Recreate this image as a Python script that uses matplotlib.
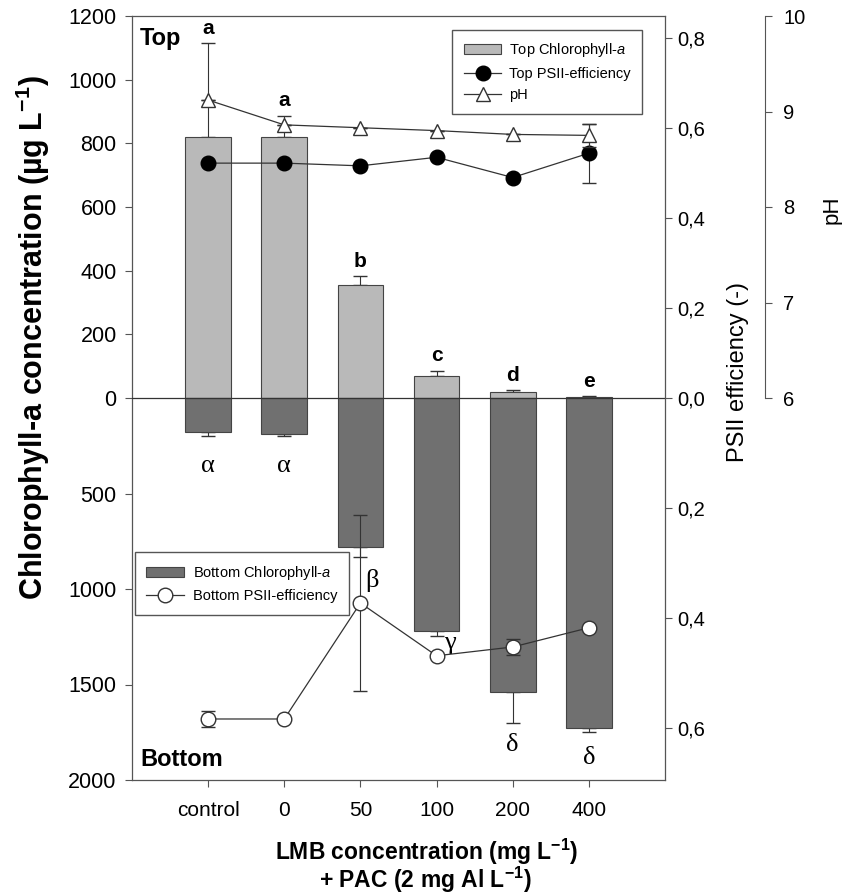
import matplotlib.pyplot as plt
import numpy as np

plt.rcParams['font.family'] = ['Liberation Sans', 'DejaVu Sans']
plt.rcParams['mathtext.fontset'] = 'custom'
plt.rcParams['mathtext.rm'] = 'Liberation Sans'
plt.rcParams['mathtext.it'] = 'Liberation Sans:italic'
plt.rcParams['mathtext.bf'] = 'Liberation Sans:bold'

# data
categories = ['control', '0', '50', '100', '200', '400']
top_chl = [820, 820, 355, 69, 19, 3]
top_chl_err = [295, 66, 28, 16, 5, 2]
bot_chl = [178, 188, 780, 1220, 1540, 1728]
bot_chl_err = [20, 10, 52, 25, 160, 20]
top_psii = [0.522, 0.522, 0.516, 0.535, 0.490, 0.544]
top_psii_err = [0.0, 0.0, 0.0, 0.0, 0.0, 0.066]
bot_psii = [0.584, 0.584, 0.373, 0.469, 0.453, 0.418]
bot_psii_err = [0.015, 0.0, 0.16, 0.0, 0.015, 0.0]
ph = [9.12, 8.86, 8.83, 8.80, 8.76, 8.75]
ph_err = [0.0, 0.0, 0.0, 0.0, 0.0, 0.12]
top_letters = ['a', 'a', 'b', 'c', 'd', 'e']
bot_letters = ['α', 'α', 'β', 'γ', 'δ', 'δ']

# split axis: top 0..1200, bottom 0..2000 drawn downward in the same height
LIM = 1200
s_chl_bot = LIM / 2000
s_psii_top = LIM / 0.849
s_psii_bot = LIM / 0.695

x = np.arange(len(categories))
light = '#b9b9b9'
dark = '#707070'

fig = plt.figure(figsize=(8.42, 8.94), dpi=100)
ax = fig.add_axes([132 / 842, 1 - 780 / 894, 533 / 842, 764 / 894])
ax.set_xlim(-1, 6)
ax.set_ylim(-LIM, LIM)

# bars
tb = ax.bar(x, top_chl, width=0.6, color=light, edgecolor='#444444', linewidth=0.8, zorder=2)
bot_vals = -np.array(bot_chl) * s_chl_bot
bb = ax.bar(x, bot_vals, width=0.6, color=dark, edgecolor='#444444', linewidth=0.8, zorder=2)
ax.errorbar(x, top_chl, yerr=[np.zeros(6), top_chl_err], fmt='none', ecolor='#333333',
            elinewidth=0.8, capsize=5, zorder=1.5)
ax.errorbar(x, bot_vals, yerr=[np.array(bot_chl_err) * s_chl_bot, np.zeros(6)], fmt='none',
            ecolor='#333333', elinewidth=0.8, capsize=5, zorder=1.5)
ax.axhline(0, color='#333333', linewidth=0.9, zorder=3)

# PSII lines
tp_y = np.array(top_psii) * s_psii_top
ax.errorbar(x, tp_y, yerr=np.array(top_psii_err) * s_psii_top, fmt='none', ecolor='#333333',
            elinewidth=0.8, capsize=5, zorder=3)
tp, = ax.plot(x, tp_y, color='#333333', linewidth=0.9, marker='o', markersize=10.5,
              markerfacecolor='black', markeredgecolor='black', zorder=4)
bp_y = -np.array(bot_psii) * s_psii_bot
ax.errorbar(x, bp_y, yerr=np.array(bot_psii_err) * s_psii_bot, fmt='none', ecolor='#333333',
            elinewidth=0.8, capsize=5, zorder=3)
bp, = ax.plot(x, bp_y, color='#333333', linewidth=0.9, marker='o', markersize=10.5,
              markerfacecolor='white', markeredgecolor='#333333', zorder=4)

# letters above the top error bars
for xi, v, e, t in zip(x, top_chl, top_chl_err, top_letters):
    ax.text(xi, v + e + 47, t, ha='center', va='center', fontsize=15, fontweight='bold')
glet_pos = [(0, -215), (1, -215), (2.15, -572), (3.18, -770), (4, -1090), (5, -1130)]
for (gx, gy), t in zip(glet_pos, bot_letters):
    ax.text(gx, gy, t, ha='center', va='center', fontsize=19, family='Liberation Serif')

ax.text(0.015, 0.985, 'Top', transform=ax.transAxes, ha='left', va='top', fontsize=17, fontweight='bold')
ax.text(0.015, 0.012, 'Bottom', transform=ax.transAxes, ha='left', va='bottom', fontsize=17, fontweight='bold')

# left axis
left_ticks = [1200, 1000, 800, 600, 400, 200, 0, 500, 1000, 1500, 2000]
left_pos = [v for v in left_ticks[:7]] + [-v * s_chl_bot for v in left_ticks[7:]]
ax.set_yticks(left_pos)
ax.set_yticklabels([str(v) for v in left_ticks])
ax.set_xticks(x)
ax.set_xticklabels(categories)
ax.tick_params(direction='out', length=5, labelsize=15.5, color='#555555')
ax.tick_params(axis='y', pad=6)
ax.tick_params(axis='x', pad=10, labelsize=15)
ax.set_ylabel('Chlorophyll-a concentration (µg L$^{\\mathbf{-1}}$)', fontsize=22, fontweight='bold')
ax.yaxis.set_label_coords(-0.15, 0.579)
for sp in ax.spines.values():
    sp.set_color('#555555')
    sp.set_linewidth(0.9)

# x label in two lines
fig.text(427 / 842, 1 - 852 / 894, 'LMB concentration (mg L$^{\\mathbf{-1}}$)',
         ha='center', va='center', fontsize=16.5, fontweight='bold')
fig.text(425 / 842, 1 - 880 / 894, '+ PAC (2 mg Al L$^{\\mathbf{-1}}$)',
         ha='center', va='center', fontsize=16.5, fontweight='bold')

# right PSII axis
ax_r = ax.twinx()
ax_r.set_ylim(-LIM, LIM)
r_vals = [0.8, 0.6, 0.4, 0.2, 0.0, 0.2, 0.4, 0.6]
r_pos = [v * s_psii_top for v in r_vals[:5]] + [-v * s_psii_bot for v in r_vals[5:]]
ax_r.set_yticks(r_pos)
ax_r.set_yticklabels([f'{v:.1f}'.replace('.', ',') for v in r_vals])
ax_r.tick_params(direction='out', length=5, labelsize=14.5, color='#555555')
ax_r.set_ylabel('PSII efficiency (-)', fontsize=17)
ax_r.yaxis.set_label_coords(1.116, 0.534)
for sp in ax_r.spines.values():
    sp.set_visible(False)

# pH axis
ax_ph = ax.twinx()
ax_ph.set_ylim(2, 10)
ax_ph.spines['right'].set_position(('axes', 1.188))
ax_ph.spines['right'].set_bounds(6, 10)
ax_ph.spines['right'].set_color('#555555')
for k in ['left', 'top', 'bottom']:
    ax_ph.spines[k].set_visible(False)
ax_ph.set_yticks([6, 7, 8, 9, 10])
ax_ph.tick_params(direction='out', length=5, pad=8, labelsize=14.5, color='#555555')
ax_ph.set_ylabel('pH', fontsize=16)
ax_ph.yaxis.set_label_coords(1.293, 0.746)
ax_ph.errorbar(x, ph, yerr=ph_err, fmt='none', ecolor='#333333', elinewidth=0.8, capsize=5, zorder=3)
php, = ax_ph.plot(x, ph, color='#333333', linewidth=0.9, marker='^', markersize=10,
                  markerfacecolor='white', markeredgecolor='#333333', zorder=4)

# legends
leg1 = ax_ph.legend([tb, tp, php], ['Top Chlorophyll-$\\mathit{a}$', 'Top PSII-efficiency', 'pH'],
                    loc='upper right', bbox_to_anchor=(0.957, 0.982), borderaxespad=0,
                    fontsize=10.5, fancybox=False, edgecolor='#555555', handlelength=2.6,
                    borderpad=0.8, handletextpad=0.5, framealpha=1)
leg2 = ax_ph.legend([bb, bp], ['Bottom Chlorophyll-$\\mathit{a}$', 'Bottom PSII-efficiency'],
                    loc='upper left', bbox_to_anchor=(0.005, 0.298), borderaxespad=0,
                    fontsize=10.5, fancybox=False, edgecolor='#555555', handlelength=2.6,
                    borderpad=0.8, handletextpad=0.6, framealpha=1)
ax_ph.add_artist(leg1)

plt.savefig('out.png', dpi=100)
